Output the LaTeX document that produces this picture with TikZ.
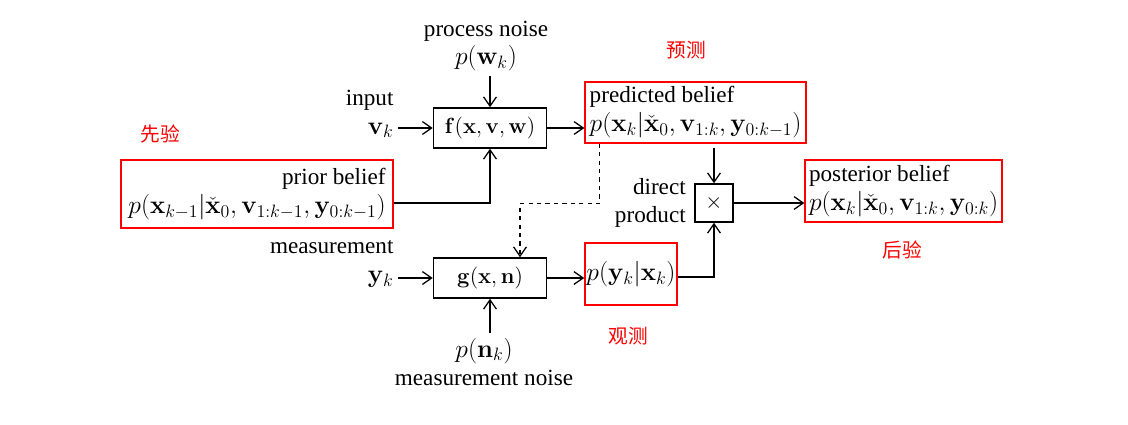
\RequirePackage{fix-cm}
\documentclass[tikz,border=0pt]{standalone}
\usepackage{amsmath}
\usepackage[no-math]{fontspec}
\setmainfont[Scale=0.905]{Liberation Serif}
\newfontfamily\cjk{Noto Sans CJK SC}
\usetikzlibrary{arrows,arrows.meta,positioning}
\tikzset{
  every node/.style={font=\fontsize{18.2}{20.5}\selectfont},
  block/.style={draw=black,line width=1.1pt,minimum height=1cm,minimum width=2.825cm,
    font=\fontsize{15.6}{18}\selectfont},
  belief/.style={draw=red,line width=1.1pt,inner sep=2pt},
  note/.style={text=red,font=\cjk\fontsize{14}{16}\selectfont},
  flow/.style={-{Straight Barb[length=2.3mm,width=3.2mm]},line width=0.9pt},
}

\begin{document}
\begin{tikzpicture}
    \useasboundingbox (0,0) rectangle (28.2,-10.625);
    % model blocks
    \node[block] (f) at (12.25,-3.2) {$\mathbf{f}(\mathbf{x},\mathbf{v},\mathbf{w})$};
    \node[block] (g) at (12.25,-6.95) {$\mathbf{g}(\mathbf{x},\mathbf{n})$};
    \node[block,minimum width=0.95cm,minimum height=0.95cm] (prod) at (17.85,-5.075) {$\times$};

    % beliefs
    \node[belief,minimum width=6.8cm,minimum height=1.7cm,align=right] (prior) at (6.425,-4.85)
        {prior belief\\$p(\mathbf{x}_{k-1}|\check{\mathbf{x}}_0,\mathbf{v}_{1:k-1},\mathbf{y}_{0:k-1})$};
    \node[belief,minimum width=5.525cm,minimum height=1.525cm,align=left] (pred) at (17.39,-2.81)
        {predicted belief\\$p(\mathbf{x}_k|\check{\mathbf{x}}_0,\mathbf{v}_{1:k},\mathbf{y}_{0:k-1})$};
    \node[belief,minimum width=4.925cm,minimum height=1.55cm,align=left] (post) at (22.59,-4.775)
        {posterior belief\\$p(\mathbf{x}_k|\check{\mathbf{x}}_0,\mathbf{v}_{1:k},\mathbf{y}_{0:k})$};
    \node[belief,inner xsep=0.3pt,minimum width=2.3cm,minimum height=1.55cm] (lik) at (15.775,-6.85)
        {$p(\mathbf{y}_k|\mathbf{x}_k)$};

    % inputs and noises
    \node[align=center] (wk) at (12.15,-1.15) {process noise\\$p(\mathbf{w}_k)$};
    \node[align=center] (nk) at (12.1,-9.05) {$p(\mathbf{n}_k)$\\measurement noise};
    \node[align=right,anchor=east] (vk) at (9.95,-2.85) {input\\$\mathbf{v}_k$};
    \node[align=right,anchor=east] (yk) at (9.95,-6.6) {measurement\\$\mathbf{y}_k$};
    \node[align=right,left=0.1cm of prod] (direct) {direct\\product};

    % labels
    \node[note] (yuce) at (17.15,-1.25) {预测};
    \node[note] (xianyan) at (4,-3.35) {先验};
    \node[note] (guance) at (15.7,-8.4) {观测};
    \node[note] (houyan) at (22.55,-6.25) {后验};

    % connectors
    \draw[flow] (wk.south -| f) -- (f.north);
    \draw[flow] (f.west -| vk.east) -- (f.west);
    \draw[flow] ([yshift=-0.225cm]prior.east) -| (f.south);
    \draw[flow] (f.east) -- (f.east -| pred.west);
    \draw[flow] (nk.north -| g) -- (g.south);
    \draw[flow] (g.west -| yk.east) -- (g.west);
    \draw[flow] (g.east) -- (g.east -| lik.west);
    \draw[flow,dashed] ([xshift=0.375cm]pred.south west) -- ++(0,-1.5) -| ([xshift=0.75cm]g.north);
    \draw[flow,shorten <=0.1cm] (pred.south -| prod) -- (prod.north);
    \draw[flow] ([yshift=-0.075cm]lik.east) -| (prod.south);
    \draw[flow] (prod.east) -- (prod.east -| post.west);
\end{tikzpicture}
\end{document}
